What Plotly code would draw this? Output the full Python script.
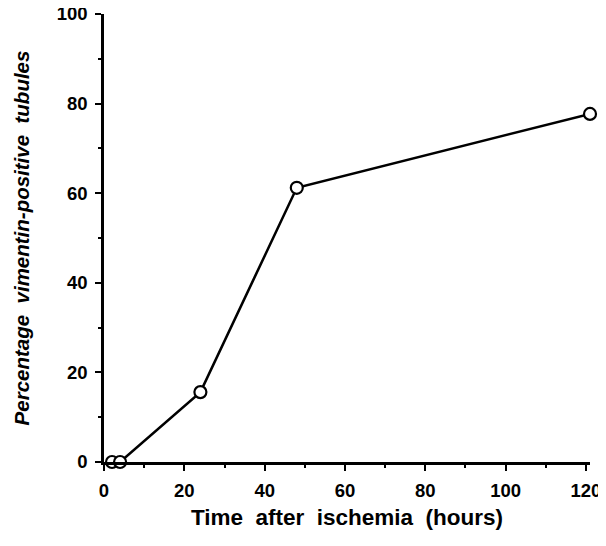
import plotly.graph_objects as go

hours = [2, 4, 24, 48, 121]
percent_positive = [0, 0, 15.6, 61.2, 77.7]
x_ticks = [0, 20, 40, 60, 80, 100, 120]
y_ticks = [0, 20, 40, 60, 80, 100]

fig = go.Figure()
fig.add_trace(go.Scatter(
    x=hours, y=percent_positive, mode="lines+markers",
    line=dict(color="black", width=2.5),
    marker=dict(symbol="circle", size=12, color="white",
                line=dict(color="black", width=2.2)),
    cliponaxis=False, showlegend=False,
))

font_ticks = dict(family="Liberation Sans", size=18.5, color="black", weight="bold")

# page body has an 8px default margin; figure sized to fit the 606x546 window
fig.update_layout(
    width=598, height=526,
    margin=dict(l=96, r=16, t=6, b=72),
    plot_bgcolor="white", paper_bgcolor="white",
    xaxis=dict(
        range=[0, 121], tickvals=x_ticks, ticktext=[str(v) for v in x_ticks],
        automargin=False, ticklabeloverflow="allow",
        showgrid=False, zeroline=False, showline=True, linecolor="black", linewidth=2.5,
        ticks="outside", ticklen=6, tickwidth=2, tickcolor="black",
        minor=dict(tickvals=[10, 30, 50, 70, 90, 110], ticks="outside", ticklen=3, tickwidth=2, tickcolor="black"),
        tickfont=font_ticks, ticklabelstandoff=4,
        title=dict(text="Time  after  ischemia  (hours)", standoff=10,
                   font=dict(family="Liberation Sans", size=22.5, color="black", weight="bold")),
    ),
    yaxis=dict(
        range=[0, 100], tickvals=y_ticks, ticktext=[str(v) for v in y_ticks],
        automargin=False, ticklabeloverflow="allow",
        showgrid=False, zeroline=False, showline=True, linecolor="black", linewidth=2.5,
        ticks="outside", ticklen=6, tickwidth=2, tickcolor="black",
        minor=dict(tickvals=[10, 30, 50, 70, 90], ticks="outside", ticklen=3, tickwidth=2, tickcolor="black"),
        tickfont=font_ticks, ticklabelstandoff=4,
        title=dict(text="<i>Percentage  vimentin-positive  tubules</i>", standoff=22,
                   font=dict(family="Liberation Sans", size=20.5, color="black", weight="bold")),
    ),
)

fig.write_html("out.html")
